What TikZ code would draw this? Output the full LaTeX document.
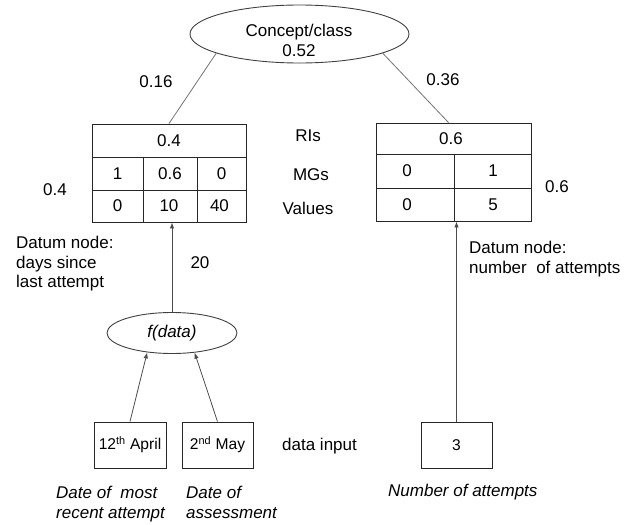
\documentclass[tikz,border=0pt]{standalone}
\usepackage{fontspec}
\setmainfont{Liberation Sans}
\usetikzlibrary{shapes.geometric,arrows.meta,calc}
\begin{document}
\begin{tikzpicture}[x=1pt,y=-1pt,
  every node/.style={font=\fontsize{17}{19}\selectfont, inner sep=0pt},
  ellip/.style={ellipse, draw=black!75, line width=0.9pt},
  tbl/.style={rectangle, draw=black!85, line width=0.9pt},
  inbox/.style={rectangle, draw=black!85, line width=0.9pt, font=\fontsize{15.6}{18}\selectfont},
  boxline/.style={draw=black!85, line width=0.9pt},
  conn/.style={draw=black!55, line width=0.8pt},
  arr/.style={draw=black!70, line width=0.8pt, -{Latex[length=6pt,width=4.5pt]}},
  multi/.style={align=left, anchor=north west, font=\fontsize{17}{19.5}\selectfont},
  note/.style={font=\fontsize{17}{20}\selectfont\itshape}
]
\useasboundingbox (0,0) rectangle (641,525);

% top concept node
\node[ellip, minimum width=219pt, minimum height=58pt] (cls) at (299.5,34) {};
\node[align=center, font=\fontsize{17}{20}\selectfont] (clst) at (299,40) {Concept/class\\0.52};

% left table
\node[tbl, minimum width=154pt, minimum height=98pt] (lbox) at (169,173) {};
\draw[boxline] (92,157) -- (246,157) (92,190) -- (246,190)
               (143,157) -- (143,222) (197,157) -- (197,222);
\node (lri) at (169,140.5) {0.4};
\node (lmg1) at (117.5,173.5) {1};
\node (lmg2) at (170,173.5) {0.6};
\node (lmg3) at (221.5,173.5) {0};
\node (lv1) at (117.5,206) {0};
\node (lv2) at (169,206) {10};
\node (lv3) at (219.5,206) {40};

% right table
\node[tbl, minimum width=155pt, minimum height=98pt] (rbox) at (453.5,172) {};
\draw[boxline] (376,154) -- (531,154) (376,188) -- (531,188)
               (454,154) -- (454,221);
\node (rri) at (451,138.5) {0.6};
\node (rmg1) at (407,171) {0};
\node (rmg2) at (493,171) {1};
\node (rv1) at (407,204.5) {0};
\node (rv2) at (493,204.5) {5};

% row labels
\node (ris) at (308,136) {RIs};
\node (mgs) at (311,175) {MGs};
\node (vals) at (308,208) {Values};

% weights
\node (w16) at (156,82) {0.16};
\node (w36) at (443,80) {0.36};
\node (w4) at (55,190) {0.4};
\node (w6) at (557,187) {0.6};
\node (w20) at (200,263) {20};

% datum labels
\node[multi] (dl) at (16,236) {Datum node:\\days since\\last attempt};
\node[multi, font=\fontsize{17}{20}\selectfont] (dr) at (469,241) {Datum node:\\number\ \ of attempts};

% f(data)
\node[ellip, minimum width=130pt, minimum height=41pt, font=\fontsize{17}{19}\selectfont\itshape] (fd) at (172,333) {f(data)};

% input boxes
\node[inbox, minimum width=72pt, minimum height=46pt] (b1) at (130,445) {12\textsuperscript{th} April};
\node[inbox, minimum width=71pt, minimum height=46pt] (b2) at (217.5,445) {2\textsuperscript{nd} May};
\node[inbox, minimum width=71pt, minimum height=46pt] (b3) at (456.5,445) {3};
\node[anchor=west] (din) at (282,446) {data input};

% bottom notes
\node[note, align=left, anchor=north west] (n1) at (56,486) {Date of\ \ most\\recent attempt};
\node[note, align=left, anchor=north west] (n2) at (186,486) {Date of\\assessment};
\node[note, anchor=west] (n3) at (388,492) {Number of attempts};

% connectors
\draw[conn] (cls.193) -- (lbox.north);
\draw[conn] (cls.347) -- ($(rbox.north)+(-5,0)$);
\draw[arr] (fd.north) -- (fd.north |- lbox.south);
\draw[arr] (b1.north) -- (fd.218);
\draw[arr] (b2.north) -- (fd.319);
\draw[arr] (b3.north) -- (b3.north |- rbox.south);
\end{tikzpicture}
\end{document}
